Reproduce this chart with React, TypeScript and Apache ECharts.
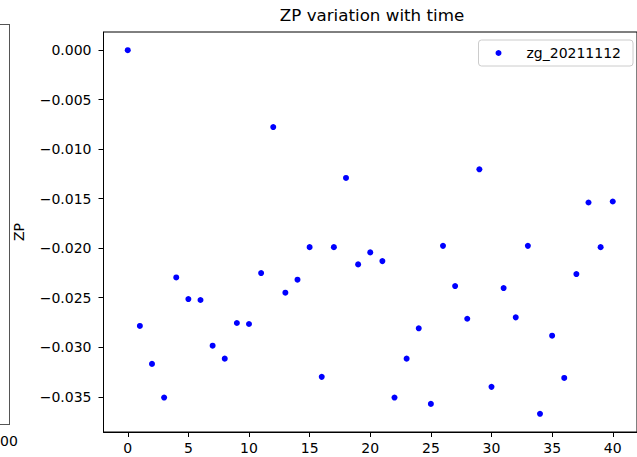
import React, { useEffect, useRef } from "react";
import * as echarts from "echarts";

const timeIndex = [
  0, 1, 2, 3, 4, 5, 6, 7, 8, 9,
  10, 11, 12, 13, 14, 15, 16, 17, 18, 19,
  20, 21, 22, 23, 24, 25, 26, 27, 28, 29,
  30, 31, 32, 33, 34, 35, 36, 37, 38, 39,
  40,
];

const zpValues = [
  0.0, -0.02785, -0.03168, -0.03508, -0.02295, -0.02513, -0.02523, -0.02984, -0.03115, -0.02755,
  -0.02765, -0.02251, -0.00776, -0.02449, -0.02318, -0.01989, -0.03299, -0.01989, -0.0129, -0.02163,
  -0.02042, -0.0213, -0.03508, -0.03115, -0.02809, -0.03572, -0.01976, -0.02382, -0.02712, -0.01203,
  -0.034, -0.02402, -0.02698, -0.01976, -0.03672, -0.02883, -0.0331, -0.02261, -0.01538, -0.01989,
  -0.01528,
];

const xTicks = [0, 5, 10, 15, 20, 25, 30, 35, 40];
const yTicks = [0, -0.005, -0.01, -0.015, -0.02, -0.025, -0.03, -0.035];

const seriesName = "zg_20211112";
const titleText = "ZP variation with time";
const yName = "ZP";
const sideLabel = "00";

const FONT = "DejaVu Sans";

export default function App() {
  const ref = useRef<HTMLDivElement>(null);

  useEffect(() => {
    if (!ref.current) return;
    const chart = echarts.init(ref.current, null, { renderer: "svg" });
    const fmtY = (v: number) => {
      const r = Math.round(v * 1000) / 1000;
      return (r < 0 ? "\u2212" : "") + Math.abs(r).toFixed(3);
    };
    chart.setOption({
      animation: false,
      backgroundColor: "#ffffff",
      textStyle: { fontFamily: FONT },
      title: {
        text: titleText,
        left: 372,
        textAlign: "center",
        top: 6,
        padding: 0,
        textStyle: { fontFamily: FONT, fontSize: 16.7, fontWeight: "normal", color: "#000" },
      },
      legend: {
        data: [{ name: seriesName, icon: "circle" }],
        right: 4,
        top: 40,
        orient: "vertical",
        itemWidth: 6,
        itemHeight: 6,
        padding: [6, 12, 6, 17],
        borderColor: "#cccccc",
        borderWidth: 1,
        borderRadius: 3,
        backgroundColor: "#ffffff",
        textStyle: { fontFamily: FONT, fontSize: 14, color: "#000", padding: [0, 0, 0, 20] },
      },
      grid: {
        left: 103.5,
        top: 32,
        width: 537,
        height: 400,
        show: true,
        borderColor: "#000",
        borderWidth: 1,
        containLabel: false,
      },
      xAxis: {
        type: "value",
        min: -2,
        max: 42,
        splitLine: { show: false },
        axisLine: { show: true, onZero: false, lineStyle: { color: "#000", width: 1 } },
        axisTick: { show: true, length: 5, lineStyle: { color: "#000" }, customValues: xTicks },
        axisLabel: {
          customValues: xTicks,
          margin: 9,
          fontFamily: FONT,
          fontSize: 14,
          color: "#000",
        },
      },
      yAxis: {
        type: "value",
        min: -0.03856,
        max: 0.00184,
        name: yName,
        nameLocation: "middle",
        nameRotate: 90,
        nameGap: 78,
        nameTextStyle: { fontFamily: FONT, fontSize: 14, color: "#000" },
        splitLine: { show: false },
        axisLine: { show: true, onZero: false, lineStyle: { color: "#000", width: 1 } },
        axisTick: { show: true, length: 5, lineStyle: { color: "#000" }, customValues: yTicks },
        axisLabel: {
          customValues: yTicks,
          margin: 12,
          fontFamily: FONT,
          fontSize: 14,
          color: "#000",
          formatter: fmtY,
        },
      },
      graphic: [
        { type: "line", shape: { x1: 9.5, y1: 24, x2: 9.5, y2: 425 }, style: { stroke: "#555", lineWidth: 1 } },
        { type: "line", shape: { x1: 0, y1: 24.5, x2: 9.5, y2: 24.5 }, style: { stroke: "#555", lineWidth: 1 } },
        { type: "line", shape: { x1: 0, y1: 424.5, x2: 9.5, y2: 424.5 }, style: { stroke: "#555", lineWidth: 1 } },
        {
          type: "text",
          x: 0,
          y: 434,
          style: { text: sideLabel, fontFamily: FONT, fontSize: 14, fill: "#000", align: "left", verticalAlign: "top" },
        },
      ],
      series: [
        {
          name: seriesName,
          type: "scatter",
          symbol: "circle",
          symbolSize: 6,
          itemStyle: { color: "#0000ff", opacity: 1 },
          data: timeIndex.map((t, i) => [t, zpValues[i]]),
        },
      ],
    });
    return () => chart.dispose();
  }, []);

  return <div ref={ref} style={{ position: "fixed", left: 0, top: 0, width: 637, height: 457 }} />;
}
